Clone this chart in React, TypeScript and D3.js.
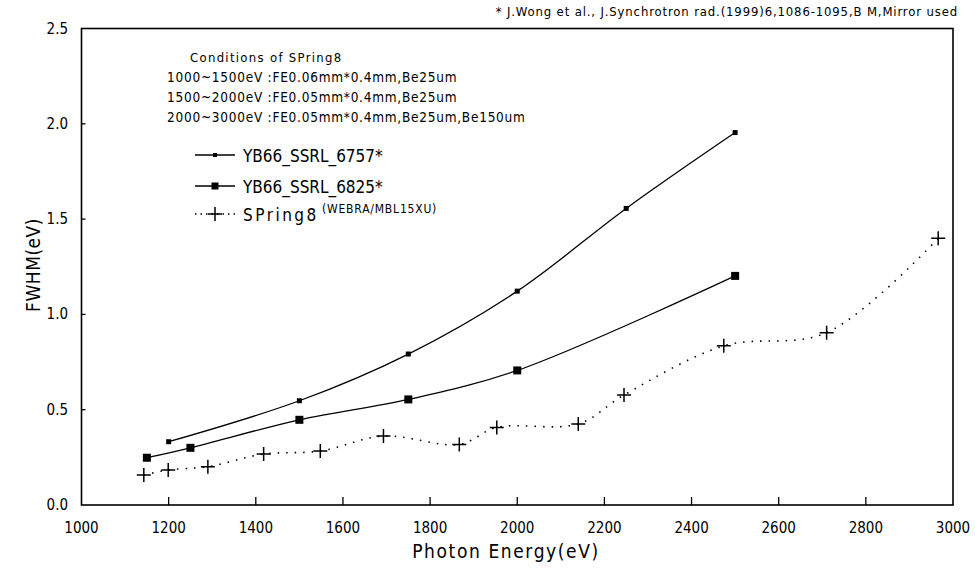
import React from 'react';
import * as d3 from 'd3';

const width = 975;
const height = 575;

// DATA ===========================================
const energyTicks = [1000, 1200, 1400, 1600, 1800, 2000, 2200, 2400, 2600, 2800, 3000];
const fwhmTicks = [0, 0.5, 1.0, 1.5, 2.0, 2.5];

// YB66_SSRL_6757*
const ssrl6757Energy = [1200, 1500, 1750, 2000, 2250, 2500];
const ssrl6757Fwhm = [0.332, 0.547, 0.792, 1.122, 1.556, 1.954];

// YB66_SSRL_6825*
const ssrl6825Energy = [1150, 1250, 1500, 1750, 2000, 2500];
const ssrl6825Fwhm = [0.248, 0.3, 0.447, 0.554, 0.706, 1.202];

// SPring8 (WEBRA/MBL15XU)
const spring8Energy = [1143, 1199, 1290, 1418, 1548, 1693, 1867, 1953, 2140, 2245, 2474, 2710, 2966];
const spring8Fwhm = [0.157, 0.184, 0.201, 0.267, 0.283, 0.362, 0.318, 0.407, 0.425, 0.577, 0.835, 0.904, 1.399];

const conditionsTitle = 'Conditions of SPring8';
const conditionLines = [
  '1000~1500eV :FE0.06mm*0.4mm,Be25um',
  '1500~2000eV :FE0.05mm*0.4mm,Be25um',
  '2000~3000eV :FE0.05mm*0.4mm,Be25um,Be150um'
];
const legendNames = ['YB66_SSRL_6757*', 'YB66_SSRL_6825*', 'SPring8'];
const spring8Note = '(WEBRA/MBL15XU)';
const reference = '* J.Wong et al., J.Synchrotron rad.(1999)6,1086-1095,B M,Mirror used';

const margin = { top: 28.5, right: 22, bottom: 70, left: 81.5 };
const font = "'Liberation Sans Narrow', 'DejaVu Sans Condensed', Arial, sans-serif";

const x = d3.scaleLinear()
  .domain([1000, 3000])
  .range([margin.left, width - margin.right]);

const y = d3.scaleLinear()
  .domain([0, 2.5])
  .range([height - margin.bottom, margin.top]);

const line = d3.line<[number, number]>()
  .x(d => x(d[0]))
  .y(d => y(d[1]))
  .curve(d3.curveCatmullRom.alpha(0.5));

const zipPts = (xs: number[], ys: number[]) => xs.map((e, i) => [e, ys[i]] as [number, number]);

const Square = ({ cx, cy, s }: { cx: number; cy: number; s: number }) => (
  <rect x={cx - s / 2} y={cy - s / 2} width={s} height={s} fill="#000" />
);

const Plus = ({ cx, cy }: { cx: number; cy: number }) => (
  <path d={`M${cx - 7},${cy}H${cx + 7}M${cx},${cy - 7}V${cy + 7}`} stroke="#000" strokeWidth={1.5} />
);

const App = () => {
  const s1 = zipPts(ssrl6757Energy, ssrl6757Fwhm);
  const s2 = zipPts(ssrl6825Energy, ssrl6825Fwhm);
  const s3 = zipPts(spring8Energy, spring8Fwhm);
  const bottom = height - margin.bottom;

  const legendX = 195;
  const legendY = [155, 186, 214];

  return (
    <svg width={width} height={height} style={{ position: 'absolute', left: 0, top: 0, background: '#fff' }}
      fontFamily={font}>
      <rect width={width} height={height} fill="#fff" />

      {/* frame */}
      <rect x={margin.left} y={margin.top} width={width - margin.left - margin.right}
        height={bottom - margin.top} fill="none" stroke="#000" strokeWidth={1.6} />

      {/* x ticks + labels */}
      {energyTicks.map(t => (
        <g key={t}>
          {t > 1000 && t < 3000 &&
            <line x1={x(t)} x2={x(t)} y1={bottom} y2={bottom - 8} stroke="#000" strokeWidth={1.3} />}
          <text x={x(t)} y={bottom + 28} textAnchor="middle" fontSize={15}>{t}</text>
        </g>
      ))}

      {/* y ticks + labels */}
      {fwhmTicks.map(t => (
        <g key={t}>
          {t > 0 && t < 2.5 &&
            <line x1={margin.left} x2={margin.left + 4} y1={y(t)} y2={y(t)} stroke="#000" strokeWidth={1.3} />}
          <text x={68} y={y(t) + 5} textAnchor="end" fontSize={15}>{d3.format('.1f')(t)}</text>
        </g>
      ))}

      <text x={506} y={558} textAnchor="middle" fontSize={19} letterSpacing={1.6}>Photon Energy(eV)</text>
      <text transform={`translate(40,${265}) rotate(-90)`} textAnchor="middle" fontSize={19}
        letterSpacing={0.5}>FWHM(eV)</text>

      <text x={958} y={16} textAnchor="end" fontSize={13} letterSpacing={0.85}>{reference}</text>

      {/* conditions */}
      <text x={190} y={62} fontSize={13} letterSpacing={1.3}>{conditionsTitle}</text>
      {conditionLines.map((c, i) => (
        <text key={c} x={167} y={82 + i * 20} fontSize={13.5} letterSpacing={0.75}>{c}</text>
      ))}

      {/* series */}
      <path d={line(s1) || ''} fill="none" stroke="#000" strokeWidth={1.3} />
      <path d={line(s2) || ''} fill="none" stroke="#000" strokeWidth={1.3} />
      <path d={line(s3) || ''} fill="none" stroke="#000" strokeWidth={1.6} strokeDasharray="1.5,7" />

      {s1.map(d => <Square key={d[0]} cx={x(d[0])} cy={y(d[1])} s={5} />)}
      {s2.map(d => <Square key={d[0]} cx={x(d[0])} cy={y(d[1])} s={8} />)}
      {s3.map(d => <Plus key={d[0]} cx={x(d[0])} cy={y(d[1])} />)}

      {/* legend */}
      <line x1={legendX} x2={legendX + 40} y1={legendY[0]} y2={legendY[0]} stroke="#000" strokeWidth={1.3} />
      <Square cx={legendX + 20} cy={legendY[0]} s={4} />
      <line x1={legendX} x2={legendX + 40} y1={legendY[1]} y2={legendY[1]} stroke="#000" strokeWidth={1.3} />
      <Square cx={legendX + 20} cy={legendY[1]} s={7} />
      <line x1={legendX} x2={legendX + 40} y1={legendY[2]} y2={legendY[2]} stroke="#000" strokeWidth={1.6}
        strokeDasharray="1.5,4" />
      <Plus cx={legendX + 20} cy={legendY[2]} />
      {legendNames.map((n, i) => (
        <text key={n} x={legendX + 48} y={legendY[i] + 7} fontSize={17} letterSpacing={i === 2 ? 2.5 : 0}>{n}</text>
      ))}
      <text x={322} y={213} fontSize={12} letterSpacing={0.8}>{spring8Note}</text>
    </svg>
  );
};

export default App;
